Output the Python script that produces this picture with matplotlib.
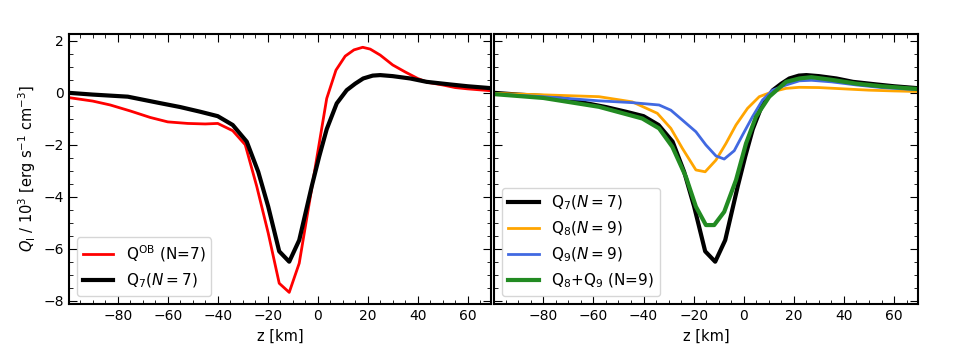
import matplotlib
matplotlib.use("Agg")
import matplotlib.pyplot as plt
from matplotlib.ticker import MultipleLocator

# ---- data ----
z_ob = [-100, -90, -83, -75, -67, -60, -52, -45, -40, -34, -29, -24.4, -19.8, -15.4, -11.4, -7.4,
        -2.4, 3.6, 7.3, 11, 14.5, 18, 21, 25, 30, 35, 40, 44, 50, 55, 60, 69]
q_ob = [-0.18, -0.32, -0.47, -0.7, -0.95, -1.12, -1.18, -1.2, -1.18, -1.46, -2.0, -3.6, -5.4, -7.33, -7.68, -6.56,
        -3.68, -0.22, 0.87, 1.41, 1.65, 1.75, 1.68, 1.45, 1.07, 0.8, 0.55, 0.4, 0.3, 0.2, 0.15, 0.08]

z_q7 = [-100, -90, -76, -63, -55, -47, -40, -34, -28.4, -23.8, -19.8, -15.4, -11.4, -7.4,
        -2.4, 0.6, 3.6, 7.6, 11.6, 15, 18.2, 22, 25, 30, 37, 43.6, 53, 60, 69]
q_q7 = [0.0, -0.07, -0.15, -0.4, -0.55, -0.73, -0.9, -1.24, -1.88, -3.04, -4.38, -6.1, -6.5, -5.67,
        -3.6, -2.45, -1.4, -0.41, 0.1, 0.35, 0.55, 0.66, 0.68, 0.64, 0.55, 0.42, 0.32, 0.25, 0.18]

z_q8 = [-100, -80, -57.8, -44.5, -34.5, -29.1, -24.5, -19.1, -15.4, -11.1, -7.1, -3.1, 1.5, 6.2,
        11.5, 16.9, 22.2, 30, 40, 50, 60, 69]
q_q8 = [-0.02, -0.08, -0.15, -0.35, -0.79, -1.37, -2.14, -2.97, -3.04, -2.59, -1.95, -1.24, -0.6, -0.15,
        0.04, 0.17, 0.21, 0.2, 0.15, 0.1, 0.07, 0.05]

z_q9 = [-100, -80, -57.8, -44.5, -33.8, -29.1, -24.5, -19.1, -15.1, -11.1, -7.8, -3.8, -0.5, 3.5,
        7.5, 11.5, 16.9, 22.2, 27, 35, 45, 55, 69]
q_q9 = [-0.05, -0.15, -0.31, -0.38, -0.47, -0.67, -1.05, -1.5, -2.01, -2.43, -2.55, -2.23, -1.63, -0.92,
        -0.28, 0.1, 0.3, 0.46, 0.48, 0.42, 0.3, 0.2, 0.12]

z_q89 = [-100, -80, -57.8, -40.5, -33.8, -28.5, -23.1, -19.1, -15.1, -11.8, -7.8, -3.1, 0.9, 4.9,
         10.2, 16.9, 22.2, 27, 35, 45, 55, 69]
q_q89 = [-0.05, -0.2, -0.54, -0.99, -1.37, -2.08, -3.23, -4.38, -5.09, -5.09, -4.58, -3.36, -1.95, -0.92,
         -0.15, 0.42, 0.55, 0.6, 0.5, 0.35, 0.25, 0.15]

lab_ob = r'Q$^{\rm OB}$ (N=7)'
lab_q7 = r'Q$_7$($N=7$)'
lab_q8 = r'Q$_8$($N=9$)'
lab_q9 = r'Q$_9$($N=9$)'
lab_q89 = r'Q$_8$+Q$_9$ (N=9)'

fig = plt.figure(figsize=(9.6, 3.62), dpi=100)
ax1 = fig.add_axes([0.0719, 0.160, 0.440, 0.746])
ax2 = fig.add_axes([0.5151, 0.160, 0.441, 0.746], sharey=ax1)

ax1.plot(z_ob, q_ob, color='red', lw=2, label=lab_ob)
ax1.plot(z_q7, q_q7, color='black', lw=3, label=lab_q7)

ax2.plot(z_q7, q_q7, color='black', lw=3, label=lab_q7)
ax2.plot(z_q8, q_q8, color='orange', lw=2, label=lab_q8)
ax2.plot(z_q9, q_q9, color='royalblue', lw=2, label=lab_q9)
ax2.plot(z_q89, q_q89, color='forestgreen', lw=3, label=lab_q89)

for ax in (ax1, ax2):
    ax.set_xlim(-99.5, 69.5)
    ax.set_ylim(-8.13, 2.26)
    ax.xaxis.set_major_locator(MultipleLocator(20))
    ax.xaxis.set_minor_locator(MultipleLocator(5))
    ax.yaxis.set_major_locator(MultipleLocator(2))
    ax.yaxis.set_minor_locator(MultipleLocator(0.5))
    ax.tick_params(which='both', direction='in', top=True, right=True, labelsize=10)
    ax.tick_params(which='major', length=6)
    ax.tick_params(which='minor', length=3)
    ax.set_xlabel('z [km]', fontsize=10.5)
    for s in ax.spines.values():
        s.set_linewidth(1.5)
    ax.legend(loc='lower left', fontsize=11)

ax2.tick_params(labelleft=False)
ax1.set_ylabel(r'$Q_{\rm l}$ / 10$^3$ [erg s$^{-1}$ cm$^{-3}$]', fontsize=10.5)

fig.savefig('out.png', dpi=100)
